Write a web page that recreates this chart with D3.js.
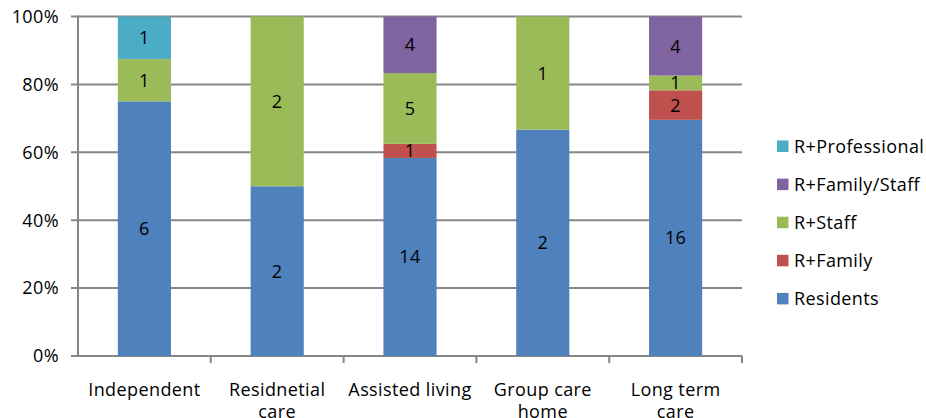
<!DOCTYPE html>
<html><head><meta charset="utf-8">
<script src="https://cdn.jsdelivr.net/npm/d3@7"></script>
<style>body{margin:0;background:#fff;overflow:hidden}svg{display:block}text{font-family:"Open Sans","Liberation Sans",sans-serif;letter-spacing:0.4px}</style>
</head><body>
<svg id="c" width="926" height="418"></svg>
<script>
const categories = ["Independent","Residnetial care","Assisted living","Group care home","Long term care"];
const seriesNames = ["Residents","R+Family","R+Staff","R+Family/Staff","R+Professional"];
const residents     = [6, 2, 14, 2, 16];
const rFamily       = [0, 0, 1, 0, 2];
const rStaff        = [1, 2, 5, 1, 1];
const rFamilyStaff  = [0, 0, 4, 0, 4];
const rProfessional = [1, 0, 0, 0, 0];
const colors = ["#4F81BD","#C0504D","#9BBB59","#8064A2","#4BACC6"];
const yTicks = [0, 0.2, 0.4, 0.6, 0.8, 1.0];

const seriesValues = [residents, rFamily, rStaff, rFamilyStaff, rProfessional];
const data = categories.map((c, i) => {
  const o = {cat: c};
  seriesNames.forEach((s, j) => o[s] = seriesValues[j][i]);
  return o;
});
const stack = d3.stack().keys(seriesNames).offset(d3.stackOffsetExpand);
const stacked = stack(data);

const svg = d3.select("#c");
const L = 78, R = 742, T = 16.5, B = 356;
const x = d3.scaleBand().domain(categories).range([L, R]).paddingInner(0.6).paddingOuter(0.3);
const band = d3.scaleBand().domain(categories).range([L, R]);
const y = d3.scaleLinear().domain([0, 1]).range([B, T]);
const grid = "#868686";
const font = "18px";

// gridlines
svg.append("g").selectAll("line").data(yTicks).join("line")
  .attr("x1", L - 7).attr("x2", R).attr("y1", d => y(d)).attr("y2", d => y(d))
  .attr("stroke", grid).attr("stroke-width", 2);
// y axis line
svg.append("line").attr("x1", L).attr("x2", L).attr("y1", T - 1).attr("y2", B + 1)
  .attr("stroke", grid).attr("stroke-width", 2);
// category ticks
svg.append("g").selectAll("line").data(categories.slice(1).concat(["__end"])).join("line")
  .attr("x1", d => d === "__end" ? R : band(d))
  .attr("x2", d => d === "__end" ? R : band(d))
  .attr("y1", B).attr("y2", B + 7).attr("stroke", grid).attr("stroke-width", 2);

// y labels
svg.append("g").selectAll("text").data(yTicks).join("text")
  .attr("x", L - 19).attr("y", d => y(d)).attr("dy", "0.35em")
  .attr("text-anchor", "end").attr("font-size", font).attr("fill", "#000")
  .text(d => d3.format(".0%")(d));

// bars
const g = svg.append("g");
stacked.forEach((s, j) => {
  g.append("g").selectAll("rect").data(s).join("rect")
    .attr("x", d => x(d.data.cat)).attr("width", x.bandwidth())
    .attr("y", d => y(d[1])).attr("height", d => y(d[0]) - y(d[1]))
    .attr("fill", colors[j]);
});
// value labels
stacked.forEach((s, j) => {
  g.append("g").selectAll("text").data(s.filter(d => d.data[s.key] > 0)).join("text")
    .attr("x", d => x(d.data.cat) + x.bandwidth() / 2)
    .attr("y", d => (y(d[0]) + y(d[1])) / 2).attr("dy", "0.36em")
    .attr("text-anchor", "middle").attr("font-size", font).attr("fill", "#000")
    .text(d => d.data[s.key]);
});

// category labels (wrapped)
const catLines = {
  "Independent": ["Independent"],
  "Residnetial care": ["Residnetial", "care"],
  "Assisted living": ["Assisted living"],
  "Group care home": ["Group care", "home"],
  "Long term care": ["Long term", "care"]
};
categories.forEach(c => {
  const t = svg.append("text").attr("text-anchor", "middle").attr("font-size", font).attr("fill", "#000");
  const cx = band(c) + band.bandwidth() / 2;
  catLines[c].forEach((ln, i) => t.append("tspan").attr("x", cx).attr("y", 396 + i * 22).text(ln));
});

// legend
const legendOrder = seriesNames.map((s, j) => ({s, c: colors[j]})).reverse();
const lg = svg.append("g");
legendOrder.forEach((d, i) => {
  const yy = 146.5 + i * 38.1;
  lg.append("rect").attr("x", 777).attr("y", yy - 6).attr("width", 11.5).attr("height", 11.5).attr("fill", d.c);
  lg.append("text").attr("x", 794).attr("y", yy).attr("dy", "0.35em").attr("font-size", font).attr("fill", "#000").text(d.s);
});
</script>
</body></html>
